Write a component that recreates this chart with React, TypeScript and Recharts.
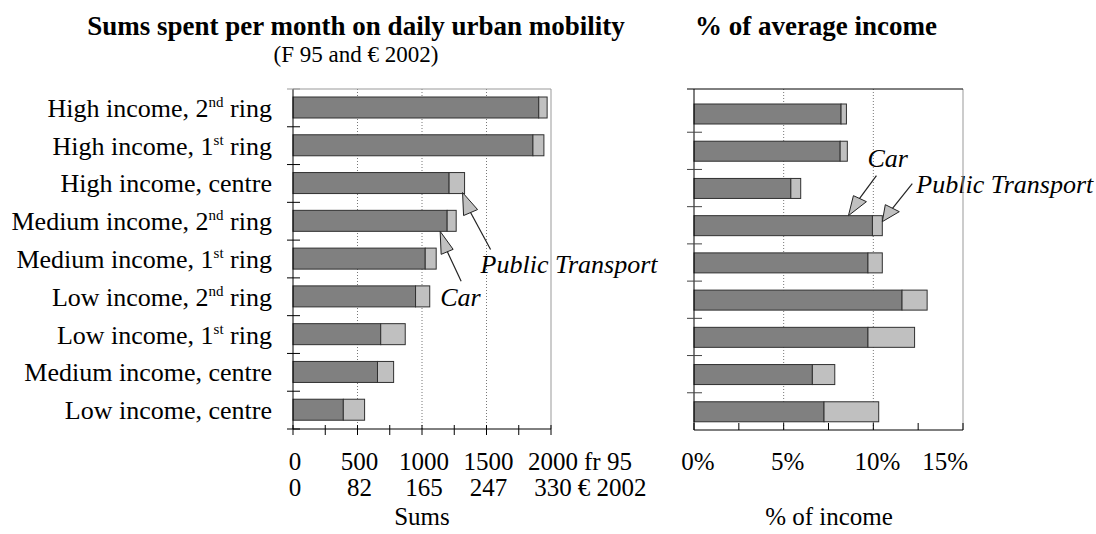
import React from "react";
import { BarChart, Bar, XAxis, YAxis, CartesianGrid, ReferenceLine } from "recharts";

const categories = [
  "High income, 2nd ring",
  "High income, 1st ring",
  "High income, centre",
  "Medium income, 2nd ring",
  "Medium income, 1st ring",
  "Low income, 2nd ring",
  "Low income, 1st ring",
  "Medium income, centre",
  "Low income, centre",
];

// F 95 per month
const sumsCar = [1905, 1860, 1210, 1195, 1025, 950, 680, 655, 390];
const sumsPublic = [65, 85, 120, 70, 85, 110, 190, 125, 165];

// % of average income
const shareCar = [8.2, 8.15, 5.4, 9.95, 9.7, 11.6, 9.7, 6.6, 7.25];
const sharePublic = [0.3, 0.4, 0.55, 0.55, 0.8, 1.4, 2.6, 1.25, 3.05];

const sumTicks = [0, 250, 500, 750, 1000, 1250, 1500, 1750, 2000];
const francLabels = [0, 500, 1000, 1500, 2000];
const euroLabels = ["0", "82", "165", "247", "330"];
const shareTicks = [0, 2.5, 5, 7.5, 10, 12.5, 15];
const shareLabels = [0, 5, 10, 15];

const sumsData = categories.map((name, i) => ({ name, car: sumsCar[i], pt: sumsPublic[i] }));
const shareData = categories.map((name, i) => ({ name, car: shareCar[i], pt: sharePublic[i] }));

const FONT = "Liberation Serif";
const serif = { fontFamily: FONT };
const DARK = "#808080";
const LIGHT = "#c0c0c0";
const EDGE = "#303030";

type Pt = [number, number];
type Callout = { text: string; tip: Pt; head: Pt[]; line: Pt[]; label: Pt };

function drawCallout(ox: number, oy: number, c: Callout) {
  const tx = ox + c.tip[0];
  const ty = oy + c.tip[1];
  const pts = [[0, 0] as Pt, ...c.head].map(([dx, dy]) => `${tx + dx},${ty + dy}`).join(" ");
  return (
    <g>
      <line
        x1={tx + c.line[0][0]}
        y1={ty + c.line[0][1]}
        x2={tx + c.line[1][0]}
        y2={ty + c.line[1][1]}
        stroke="#222"
        strokeWidth={1.2}
      />
      <polygon points={pts} fill={LIGHT} stroke="#222" strokeWidth={1} />
      <text x={tx + c.label[0]} y={ty + c.label[1]} style={{ ...serif, fontStyle: "italic" }} fontSize={26} fill="#000">
        {c.text}
      </text>
    </g>
  );
}

type Note = { index: number; anchor: "top" | "bottom"; callout: Callout };

function barShape(fill: string, note?: Note) {
  return (props: any) => {
    const { x, y, width, height, index } = props;
    if (width == null || height == null) return <g />;
    return (
      <g>
        <rect x={x} y={y} width={width} height={height} fill={fill} stroke={EDGE} strokeWidth={1} />
        {note && index === note.index && drawCallout(x + width, note.anchor === "top" ? y : y + height, note.callout)}
      </g>
    );
  };
}

const leftPtNote: Note = {
  index: 2,
  anchor: "bottom",
  callout: { text: "Public Transport", tip: [-2, -1], head: [[1, 23], [15, 17]], line: [[8, 20], [28, 57]], label: [18, 80] },
};
const leftCarNote: Note = {
  index: 3,
  anchor: "bottom",
  callout: { text: "Car", tip: [-7, 0], head: [[1, 23], [13, 18]], line: [[7, 20], [21, 50]], label: [0, 75] },
};
const rightCarNote: Note = {
  index: 3,
  anchor: "top",
  callout: { text: "Car", tip: [-24, 0], head: [[5, -20], [18, -14]], line: [[11, -17], [28, -40]], label: [19, -49] },
};
const rightPtNote: Note = {
  index: 3,
  anchor: "top",
  callout: { text: "Public Transport", tip: [0, 6], head: [[3, -17], [17, -10]], line: [[10, -13], [30, -38]], label: [34, -29] },
};

function labelParts(name: string) {
  const m = name.match(/^(.*?)(\d)(st|nd|rd|th)(.*)$/);
  if (!m) return <tspan>{name}</tspan>;
  return (
    <>
      <tspan>{m[1] + m[2]}</tspan>
      <tspan fontSize={15} dy={-10}>
        {m[3]}
      </tspan>
      <tspan dy={10}>{m[4]}</tspan>
    </>
  );
}

function leftCategoryTick(p: any) {
  const { x, y, payload, index } = p;
  const half = (payload && payload.offset) || 340 / 18;
  const last = index === categories.length - 1;
  return (
    <g>
      <line x1={x - 6} x2={x + 7} y1={y - half} y2={y - half} stroke={index === 0 ? "#999" : "#000"} />
      {last && <line x1={x - 6} x2={x + 7} y1={y + half} y2={y + half} stroke="#000" />}
      <text x={x - 21} y={y + 9} textAnchor="end" style={serif} fontSize={26} fill="#000">
        {labelParts(payload.value)}
      </text>
    </g>
  );
}

function rightCategoryTick(p: any) {
  const { x, y, payload, index } = p;
  const half = (payload && payload.offset) || 335 / 18;
  if (index === 0) return <line x1={x - 7} x2={x} y1={y - half - 6} y2={y - half - 6} stroke="#000" />;
  return <line x1={x - 7} x2={x + 8} y1={y - half} y2={y - half} stroke="#444" />;
}

function sumTick(p: any) {
  const { x, y, payload } = p;
  const i = francLabels.indexOf(payload.value);
  const last = i === francLabels.length - 1;
  const fr = String(francLabels[i]);
  const eu = euroLabels[i];
  return (
    <g>
      <line x1={x} x2={x} y1={y - 4} y2={y + 6} stroke="#000" />
      {i >= 0 && (
        <g style={serif} fontSize={25} fill="#000">
          <text x={x + 2} y={y + 41} textAnchor="middle">
            {fr}
          </text>
          <text x={x + 2} y={y + 67} textAnchor="middle">
            {eu}
          </text>
          {last && (
            <>
              <text x={x + 2 + fr.length * 6.25 + 6} y={y + 41}>
                fr 95
              </text>
              <text x={x + 2 + eu.length * 6.25 + 6} y={y + 67}>
                € 2002
              </text>
            </>
          )}
        </g>
      )}
    </g>
  );
}

function shareTick(p: any) {
  const { x, y, payload } = p;
  const i = shareLabels.indexOf(payload.value);
  const last = i === shareLabels.length - 1;
  return (
    <g>
      <line x1={x} x2={x} y1={y - 7} y2={y} stroke="#000" />
      {i >= 0 && (
        <text
          x={last ? x + 5 : x + 4}
          y={y + 40}
          textAnchor={last ? "end" : "middle"}
          style={serif}
          fontSize={25}
          fill="#000"
        >
          {`${shareLabels[i]}%`}
        </text>
      )}
    </g>
  );
}

export default function App() {
  return (
    <div style={{ position: "absolute", left: 0, top: 0, width: 1096, height: 534, background: "#fff" }}>
      <div style={{ position: "absolute", left: 0, top: 0 }}>
        <BarChart
          width={660}
          height={534}
          layout="vertical"
          data={sumsData}
          barSize={21}
          margin={{ top: 88, right: 109, bottom: 104, left: 292 }}
        >
          <CartesianGrid horizontal={false} verticalValues={[500, 1000, 1500]} stroke="#777" strokeDasharray="1 2" />
          <XAxis
            type="number"
            domain={[0, 2000]}
            ticks={sumTicks}
            interval={0}
            height={1}
            tickSize={0}
            tickMargin={0}
            tickLine={false}
            axisLine={{ stroke: "#000" }}
            tick={sumTick}
          />
          <XAxis
            xAxisId="top"
            orientation="top"
            type="number"
            domain={[0, 2000]}
            height={1}
            tick={false}
            tickLine={false}
            axisLine={{ stroke: "#999" }}
          />
          <YAxis
            type="category"
            dataKey="name"
            width={1}
            interval={0}
            tickSize={0}
            tickMargin={0}
            tickLine={false}
            axisLine={{ stroke: "#000" }}
            tick={leftCategoryTick}
          />
          <ReferenceLine x={2000} stroke="#999" />
          <Bar dataKey="car" stackId="s" fill={DARK} isAnimationActive={false} shape={barShape(DARK, leftCarNote)} />
          <Bar dataKey="pt" stackId="s" fill={LIGHT} isAnimationActive={false} shape={barShape(LIGHT, leftPtNote)} />
        </BarChart>
      </div>
      <div style={{ position: "absolute", left: 660, top: 0 }}>
        <BarChart
          width={436}
          height={534}
          layout="vertical"
          data={shareData}
          barSize={20}
          margin={{ top: 88, right: 133, bottom: 103, left: 33 }}
        >
          <CartesianGrid horizontal={false} verticalValues={[5, 10]} stroke="#777" strokeDasharray="1 2" />
          <XAxis
            type="number"
            domain={[0, 15]}
            ticks={shareTicks}
            interval={0}
            height={1}
            tickSize={0}
            tickMargin={0}
            tickLine={false}
            axisLine={{ stroke: "#000" }}
            tick={shareTick}
          />
          <XAxis
            xAxisId="top"
            orientation="top"
            type="number"
            domain={[0, 15]}
            height={1}
            tick={false}
            tickLine={false}
            axisLine={{ stroke: "#000" }}
          />
          <YAxis
            type="category"
            dataKey="name"
            width={1}
            interval={0}
            padding={{ top: 6, bottom: 0 }}
            tickSize={0}
            tickMargin={0}
            tickLine={false}
            axisLine={{ stroke: "#000" }}
            tick={rightCategoryTick}
          />
          <ReferenceLine x={15} stroke="#999" />
          <Bar dataKey="car" stackId="s" fill={DARK} isAnimationActive={false} shape={barShape(DARK, rightCarNote)} />
          <Bar dataKey="pt" stackId="s" fill={LIGHT} isAnimationActive={false} shape={barShape(LIGHT, rightPtNote)} />
        </BarChart>
      </div>
      <svg
        width={1096}
        height={534}
        style={{ position: "absolute", left: 0, top: 0, pointerEvents: "none", fontFamily: FONT }}
        fill="#000"
      >
        <text x={356} y={35} textAnchor="middle" fontSize={27} fontWeight="bold">
          Sums spent per month on daily urban mobility
        </text>
        <text x={356} y={62} textAnchor="middle" fontSize={23}>
          (F 95 and € 2002)
        </text>
        <text x={816} y={35} textAnchor="middle" fontSize={27} fontWeight="bold">
          % of average income
        </text>
        <text x={422} y={525} textAnchor="middle" fontSize={25}>
          Sums
        </text>
        <text x={829} y={525} textAnchor="middle" fontSize={25}>
          % of income
        </text>
      </svg>
    </div>
  );
}
